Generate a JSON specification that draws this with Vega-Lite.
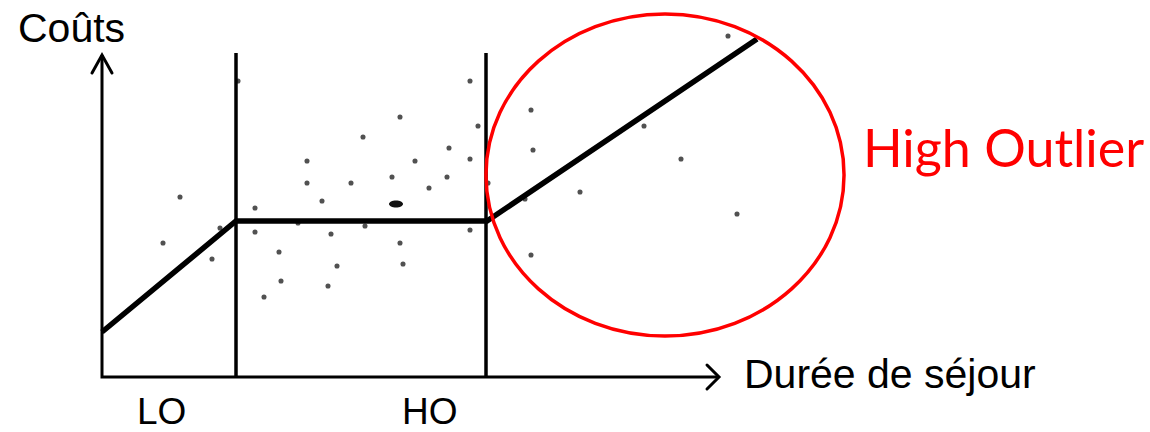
{
  "$schema": "https://vega.github.io/schema/vega-lite/v6.json",
  "width": 1150,
  "height": 432,
  "autosize": "none",
  "padding": 0,
  "background": "white",
  "config": {"view": {"stroke": null}},
  "datasets": {
    "frame": [
      {"x": 102, "y": 55, "i": 0},
      {"x": 102, "y": 377, "i": 1},
      {"x": 719, "y": 377, "i": 2}
    ],
    "arrows": [
      {"g": "y", "i": 0, "x": 92, "y": 73},
      {"g": "y", "i": 1, "x": 102, "y": 55},
      {"g": "y", "i": 2, "x": 112, "y": 73},
      {"g": "x", "i": 0, "x": 707, "y": 365},
      {"g": "x", "i": 1, "x": 719, "y": 377},
      {"g": "x", "i": 2, "x": 707, "y": 389}
    ],
    "bounds": [
      {"x": 236, "y1": 53, "y2": 377},
      {"x": 486, "y1": 53, "y2": 377}
    ],
    "curve": [
      {"x": 102, "y": 332, "i": 0},
      {"x": 236, "y": 221, "i": 1},
      {"x": 487, "y": 221, "i": 2},
      {"x": 757, "y": 39, "i": 3}
    ],
    "stays": [
      {"x": 180, "y": 197}, {"x": 220, "y": 228}, {"x": 163, "y": 243}, {"x": 212, "y": 259},
      {"x": 238, "y": 81}, {"x": 470, "y": 81}, {"x": 400, "y": 117}, {"x": 478, "y": 126},
      {"x": 363, "y": 137}, {"x": 449, "y": 148}, {"x": 307, "y": 161}, {"x": 415, "y": 161},
      {"x": 470, "y": 159}, {"x": 307, "y": 183}, {"x": 351, "y": 183}, {"x": 392, "y": 177},
      {"x": 447, "y": 177}, {"x": 429, "y": 188}, {"x": 322, "y": 201}, {"x": 255, "y": 208},
      {"x": 298, "y": 223}, {"x": 365, "y": 226}, {"x": 470, "y": 230}, {"x": 255, "y": 232},
      {"x": 331, "y": 234}, {"x": 400, "y": 243}, {"x": 279, "y": 252}, {"x": 337, "y": 266},
      {"x": 403, "y": 264}, {"x": 281, "y": 281}, {"x": 328, "y": 286}, {"x": 264, "y": 297},
      {"x": 488, "y": 183}, {"x": 728, "y": 36}, {"x": 531, "y": 110}, {"x": 644, "y": 126},
      {"x": 533, "y": 150}, {"x": 681, "y": 159}, {"x": 580, "y": 192}, {"x": 525, "y": 199},
      {"x": 737, "y": 214}, {"x": 531, "y": 255}
    ],
    "blob": [{"x": 396, "y": 204}],
    "outlierZone": [{"x": 665, "y": 175}],
    "labelsBlack": [
      {"x": 18, "y": 42, "label": "Coûts"},
      {"x": 744, "y": 388, "label": "Durée de séjour"}
    ],
    "ticks": [
      {"x": 137, "y": 424, "label": "LO"},
      {"x": 402, "y": 424, "label": "HO"}
    ],
    "labelsRed": [
      {"x": 863, "y": 167, "label": "High Outlier"}
    ]
  },
  "encoding": {
    "x": {"field": "x", "type": "quantitative", "scale": {"domain": [0, 1150], "nice": false, "zero": false}, "axis": null},
    "y": {"field": "y", "type": "quantitative", "scale": {"domain": [0, 432], "nice": false, "zero": false, "reverse": true}, "axis": null}
  },
  "layer": [
    {
      "data": {"name": "stays"},
      "mark": {"type": "point", "shape": "circle", "filled": true, "size": 26, "color": "#333333", "opacity": 0.85}
    },
    {
      "data": {"name": "blob"},
      "mark": {"type": "point", "shape": "M -2 0 A 2 1 0 1 1 2 0 A 2 1 0 1 1 -2 0 Z", "filled": true, "size": 49, "color": "#111111", "opacity": 1}
    },
    {
      "data": {"name": "bounds"},
      "mark": {"type": "rule", "color": "black", "strokeWidth": 3.5},
      "encoding": {
        "y": {"field": "y1", "type": "quantitative"},
        "y2": {"field": "y2"}
      }
    },
    {
      "data": {"name": "frame"},
      "mark": {"type": "line", "color": "black", "strokeWidth": 3, "strokeJoin": "miter"},
      "encoding": {"order": {"field": "i", "type": "quantitative"}}
    },
    {
      "data": {"name": "arrows"},
      "mark": {"type": "line", "color": "black", "strokeWidth": 3, "strokeJoin": "miter", "strokeCap": "round"},
      "encoding": {
        "detail": {"field": "g", "type": "nominal"},
        "order": {"field": "i", "type": "quantitative"}
      }
    },
    {
      "data": {"name": "curve"},
      "mark": {"type": "line", "color": "black", "strokeWidth": 5.5, "strokeJoin": "miter"},
      "encoding": {"order": {"field": "i", "type": "quantitative"}}
    },
    {
      "data": {"name": "outlierZone"},
      "mark": {"type": "point", "shape": "M -1.112 0 A 1.112 1 0 1 1 1.112 0 A 1.112 1 0 1 1 -1.112 0 Z", "filled": false, "size": 103684, "stroke": "#ff0000", "strokeWidth": 3.5, "opacity": 1}
    },
    {
      "data": {"name": "labelsBlack"},
      "mark": {"type": "text", "align": "left", "baseline": "alphabetic", "font": "Liberation Sans", "fontSize": 41, "color": "black"},
      "encoding": {"text": {"field": "label"}}
    },
    {
      "data": {"name": "ticks"},
      "mark": {"type": "text", "align": "left", "baseline": "alphabetic", "font": "Liberation Sans", "fontSize": 37, "color": "black"},
      "encoding": {"text": {"field": "label"}}
    },
    {
      "data": {"name": "labelsRed"},
      "mark": {"type": "text", "align": "left", "baseline": "alphabetic", "font": "Lato", "fontSize": 52, "color": "#ff0000"},
      "encoding": {"text": {"field": "label"}}
    }
  ]
}
